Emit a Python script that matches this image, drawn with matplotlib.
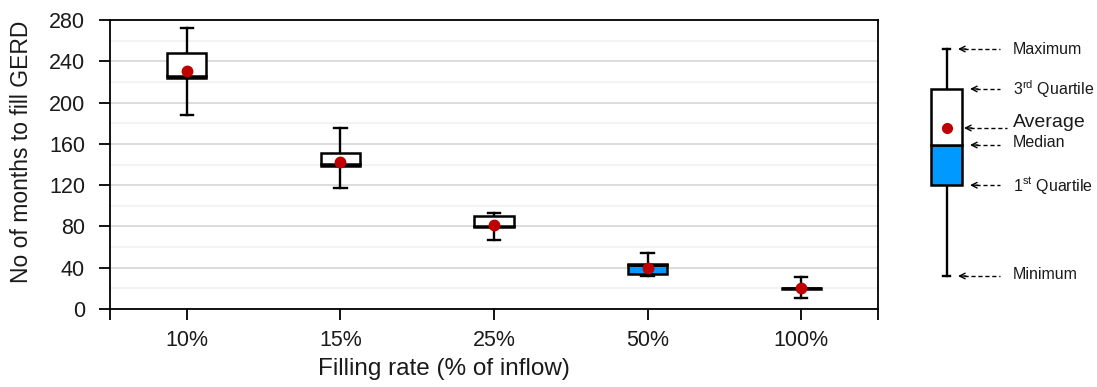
import matplotlib
matplotlib.use("Agg")
import matplotlib.pyplot as plt
import numpy as np

plt.rcParams['font.family'] = ['Liberation Sans', 'DejaVu Sans']

# values (months)
categories = ['10%', '15%', '25%', '50%', '100%']
minimum = [188, 117, 67, 32, 11]
q1 = [224, 139, 79, 34, 19.5]
median = [225.5, 140.5, 80.5, 43, 20]
q3 = [248, 151, 90, 44, 20.5]
maximum = [272, 175, 93, 54, 31]
average = [231, 142, 81, 40, 20]

# schematic box for the explanation on the right (arbitrary units)
key_stats = dict(minimum=0, q1=40, median=57.7, q3=82.4, maximum=100, average=65.2)

BLUE = '#0099ff'
RED = '#c00000'


def draw_box(ax, x, lo, a, med, b, hi, mean, w, cap, ms):
    # whiskers and caps
    kw = dict(color='black', lw=1.7, zorder=2, clip_on=False)
    ax.plot([x, x], [lo, a], **kw)
    ax.plot([x, x], [b, hi], **kw)
    ax.plot([x - cap, x + cap], [lo, lo], **kw)
    ax.plot([x - cap, x + cap], [hi, hi], **kw)
    # lower part blue, upper part white
    ax.bar(x, med - a, bottom=a, width=w, color=BLUE, edgecolor='black', lw=1.8, zorder=3)
    ax.bar(x, b - med, bottom=med, width=w, color='white', edgecolor='black', lw=1.8, zorder=3)
    ax.plot(x, mean, 'o', color=RED, ms=ms, zorder=4)


fig = plt.figure(figsize=(10.97, 3.87), dpi=100)
ax = fig.add_axes([110 / 1097, 1 - 309 / 387, 768 / 1097, 289 / 387])

xs = np.arange(len(categories))
for i in range(len(categories)):
    draw_box(ax, xs[i], minimum[i], q1[i], median[i], q3[i], maximum[i], average[i],
             w=0.255, cap=0.04, ms=7.5)

ax.set_xlim(-0.5, len(categories) - 0.5)
ax.set_ylim(0, 280)
ax.set_yticks(np.arange(0, 281, 40))
ax.set_yticks(np.arange(20, 281, 40), minor=True)
ax.set_xticks(xs)
ax.set_xticklabels(categories)
ax.set_xticks([-0.5, len(categories) - 0.5], minor=True)
ax.grid(axis='y', which='major', color='#d9d9d9', lw=1.3, zorder=0)
ax.grid(axis='y', which='minor', color='#f2f2f2', lw=1.3, zorder=0)
ax.set_axisbelow(True)
ax.tick_params(axis='both', which='major', labelsize=15.5, direction='out', length=8, width=1.3,
               color='black', labelcolor='#1a1a1a')
ax.tick_params(axis='y', which='minor', length=0)
ax.tick_params(axis='y', pad=10)
ax.tick_params(axis='x', which='minor', direction='out', length=8, width=1.3)
ax.tick_params(axis='x', pad=7)
for s in ax.spines.values():
    s.set_linewidth(1.3)
ax.set_ylabel('No of months to fill GERD', fontsize=16.5, color='#1a1a1a')
ax.set_xlabel('Filling rate (% of inflow)', fontsize=17.5, color='#1a1a1a')
ax.yaxis.set_label_coords(-0.100, 0.543)
ax.xaxis.set_label_coords(0.435, -0.170)

# explanation key on the right, x in pixels from 900, y from 0 (minimum) to 100 (maximum)
kx = fig.add_axes([900 / 1097, 1 - 276 / 387, 197 / 1097, 227 / 387])
kx.set_xlim(0, 197)
kx.set_ylim(0, 100)
kx.axis('off')
k = key_stats
draw_box(kx, 46.5, k['minimum'], k['q1'], k['median'], k['q3'], k['maximum'], k['average'],
         w=31, cap=3.5, ms=7)

labels = [
    ('Maximum', k['maximum'], 58, 100, 11.5, 0),
    ('3$^{\\mathregular{rd}}$ Quartile', k['q3'], 70, 100, 11.5, -0.3),
    ('Average', k['average'], 64, 107, 14, 2.6),
    ('Median', k['median'], 70, 100, 11.5, 0.9),
    ('1$^{\\mathregular{st}}$ Quartile', k['q1'], 70, 100, 11.5, -0.3),
    ('Minimum', k['minimum'], 58, 100, 11.5, 0.8),
]
for text, yv, head, tail, fs, dy in labels:
    kx.plot([head + 6, tail], [yv, yv], color='black', lw=1.0, ls=(0, (3, 2)), clip_on=False)
    kx.annotate('', xy=(head, yv), xytext=(head + 8, yv),
                arrowprops=dict(arrowstyle='->', lw=1.0, color='black',
                                shrinkA=0, shrinkB=0, mutation_scale=10))
    kx.text(113, yv + dy, text, fontsize=fs, va='center', ha='left', color='#1a1a1a')

fig.savefig('out.png', dpi=100)
